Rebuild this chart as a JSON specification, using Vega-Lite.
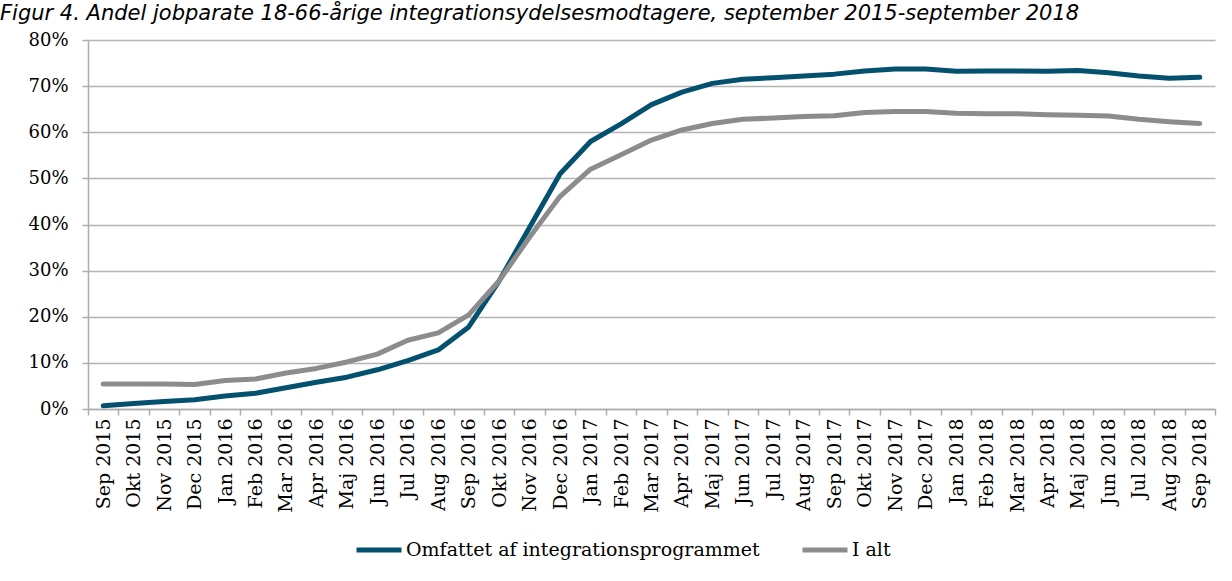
{
  "$schema": "https://vega.github.io/schema/vega-lite/v6.json",
  "autosize": {"type": "none"},
  "padding": {"left": 88, "top": 40, "right": 17, "bottom": 172},
  "width": 1127,
  "height": 369,
  "background": "white",
  "title": {
    "text": "Figur 4. Andel jobparate 18-66-årige integrationsydelsesmodtagere, september 2015-september 2018",
    "font": "DejaVu Sans",
    "fontStyle": "italic",
    "fontWeight": "normal",
    "fontSize": 21,
    "color": "#000000",
    "anchor": "start",
    "frame": "group",
    "baseline": "top",
    "offset": 0,
    "dx": -88,
    "dy": -7
  },
  "data": {
    "values": [
      {"m": "Sep 2015", "a": 0.7, "b": 5.4},
      {"m": "Okt 2015", "a": 1.2, "b": 5.4},
      {"m": "Nov 2015", "a": 1.6, "b": 5.4},
      {"m": "Dec 2015", "a": 2.0, "b": 5.3},
      {"m": "Jan 2016", "a": 2.8, "b": 6.2},
      {"m": "Feb 2016", "a": 3.4, "b": 6.5},
      {"m": "Mar 2016", "a": 4.6, "b": 7.8},
      {"m": "Apr 2016", "a": 5.8, "b": 8.8},
      {"m": "Maj 2016", "a": 6.9, "b": 10.2},
      {"m": "Jun 2016", "a": 8.5, "b": 11.9},
      {"m": "Jul 2016", "a": 10.5, "b": 14.9},
      {"m": "Aug 2016", "a": 12.8, "b": 16.5},
      {"m": "Sep 2016", "a": 17.8, "b": 20.4},
      {"m": "Okt 2016", "a": 27.8, "b": 27.8},
      {"m": "Nov 2016", "a": 39.4, "b": 37.3},
      {"m": "Dec 2016", "a": 51.0, "b": 46.1},
      {"m": "Jan 2017", "a": 58.0, "b": 52.0},
      {"m": "Feb 2017", "a": 61.8, "b": 55.1},
      {"m": "Mar 2017", "a": 66.0, "b": 58.3},
      {"m": "Apr 2017", "a": 68.7, "b": 60.5},
      {"m": "Maj 2017", "a": 70.6, "b": 61.9},
      {"m": "Jun 2017", "a": 71.5, "b": 62.8},
      {"m": "Jul 2017", "a": 71.8, "b": 63.1},
      {"m": "Aug 2017", "a": 72.2, "b": 63.4},
      {"m": "Sep 2017", "a": 72.6, "b": 63.6},
      {"m": "Okt 2017", "a": 73.3, "b": 64.3},
      {"m": "Nov 2017", "a": 73.7, "b": 64.5},
      {"m": "Dec 2017", "a": 73.7, "b": 64.5},
      {"m": "Jan 2018", "a": 73.2, "b": 64.1},
      {"m": "Feb 2018", "a": 73.3, "b": 64.0},
      {"m": "Mar 2018", "a": 73.3, "b": 64.0},
      {"m": "Apr 2018", "a": 73.2, "b": 63.8},
      {"m": "Maj 2018", "a": 73.4, "b": 63.7},
      {"m": "Jun 2018", "a": 72.9, "b": 63.5},
      {"m": "Jul 2018", "a": 72.2, "b": 62.8},
      {"m": "Aug 2018", "a": 71.7, "b": 62.3},
      {"m": "Sep 2018", "a": 71.9, "b": 61.9}
    ]
  },
  "transform": [
    {"fold": ["a", "b"], "as": ["k", "v"]},
    {"lookup": "k", "from": {"data": {"values": [
      {"k": "a", "serie": "Omfattet af integrationsprogrammet"},
      {"k": "b", "serie": "I alt"}
    ]}, "key": "k", "fields": ["serie"]}}
  ],
  "mark": {"type": "line", "strokeWidth": 5, "strokeCap": "round", "strokeJoin": "round"},
  "encoding": {
    "x": {
      "field": "m",
      "type": "ordinal",
      "sort": null,
      "bandPosition": 0.5,
      "scale": {"type": "band", "paddingInner": 0, "paddingOuter": 0},
      "axis": {
        "title": null,
        "tickBand": "extent",
        "labelAngle": -90,
        "labelAlign": "right",
        "labelBaseline": "middle",
        "labelFont": "DejaVu Serif",
        "labelFontSize": 19,
        "labelColor": "#000000",
        "labelPadding": 3,
        "tickSize": 6,
        "tickColor": "#ADADAD",
        "domainColor": "#ADADAD",
        "domainWidth": 1.5,
        "tickWidth": 1.5,
        "grid": false
      }
    },
    "y": {
      "field": "v",
      "type": "quantitative",
      "scale": {"domain": [0, 80], "nice": false},
      "axis": {
        "title": null,
        "values": [0, 10, 20, 30, 40, 50, 60, 70, 80],
        "labelExpr": "datum.value + '%'",
        "labelFont": "DejaVu Serif",
        "labelFontSize": 18,
        "labelColor": "#000000",
        "labelPadding": 14,
        "tickSize": 6,
        "tickColor": "#ADADAD",
        "tickWidth": 1.5,
        "domainColor": "#ADADAD",
        "domainWidth": 1.5,
        "grid": true,
        "gridColor": "#B4B4B4",
        "gridWidth": 1.5
      }
    },
    "color": {
      "field": "serie",
      "type": "nominal",
      "sort": ["Omfattet af integrationsprogrammet", "I alt"],
      "scale": {"domain": ["Omfattet af integrationsprogrammet", "I alt"], "range": ["#04506F", "#8C8C8C"]},
      "legend": {
        "title": null,
        "orient": "none",
        "legendX": 266,
        "legendY": 485,
        "direction": "horizontal",
        "symbolType": "stroke",
        "symbolSize": 2025,
        "symbolStrokeWidth": 5,
        "labelFont": "DejaVu Serif",
        "labelFontSize": 19,
        "labelColor": "#000000",
        "labelOffset": 2,
        "labelLimit": 0,
        "columnPadding": 32
      }
    }
  },
  "config": {"view": {"stroke": null}}
}
